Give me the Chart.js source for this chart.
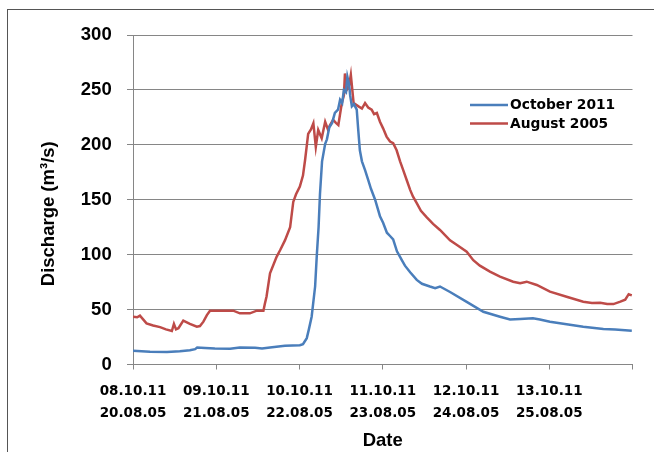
<!DOCTYPE html>
<html><head><meta charset="utf-8">
<script src="https://cdn.jsdelivr.net/npm/chart.js@4.4.1/dist/chart.umd.min.js"></script>
<style>
html,body{margin:0;padding:0;background:#fff;overflow:hidden}
#wrap{position:relative;width:654px;height:452px}
#frame{position:absolute;left:7px;top:9px;width:700px;height:500px;border-left:1px solid #555;border-top:1px solid #555}
canvas{position:absolute;left:0;top:0}
</style></head><body>
<div id="wrap"><div id="frame"></div><canvas id="c" width="654" height="452"></canvas></div>
<script>
// Tick labels (one per day, hours since start)
const dayLabels2011 = ['08.10.11','09.10.11','10.10.11','11.10.11','12.10.11','13.10.11'];
const dayLabels2005 = ['20.08.05','21.08.05','22.08.05','23.08.05','24.08.05','25.08.05'];
const yTitle = 'Discharge (m³/s)';
const xTitle = 'Date';
const seriesNames = ['October 2011','August 2005'];

// October 2011: hours since start, discharge
const octHours = [0,4.9,9.8,13.5,16.4,17.9,18.5,20.8,23.6,28.0,30.8,35.2,37.2,39.5,43.8,48.1,49.0,50.1,50.7,51.5,52.5,53.0,53.5,53.9,54.5,55.4,55.9,56.6,57.4,58.2,59.1,59.7,60.3,60.8,61.4,61.8,62.3,62.6,63.1,63.7,64.5,64.9,65.4,66.0,66.9,67.8,68.6,69.8,71.2,72.1,73.2,74.1,75.0,76.1,77.5,78.4,79.9,81.8,83.3,85.6,87.1,88.5,91.4,96.2,101.0,105.8,108.7,111.6,115.3,117.3,120.2,125.0,129.8,135.6,139.0,143.8];
const octValues = [12.5,11.5,11.3,12,13,14,15.5,15,14.5,14.3,15.5,15.2,14.5,15.5,17,17.5,18.5,24,32,43.5,71,100,125,155,185,201,205,216,220,229,232,241,238,250,248,262,255,245,235,237,232,215,195,185,177,168,160,150,135,129,120,117,114,103,95,90,84,77,73.5,71,69.5,71,66,57,48,43.5,41,41.5,42,41,39,36.6,34.4,32.3,31.8,30.8];

// August 2005: hours since start, discharge
const augHours = [0,1.2,2.0,3.9,5.8,7.8,9.5,11.2,11.8,12.4,13.1,14.5,16.4,18.4,19.3,20.3,21.3,22.2,25.1,28.9,30.8,33.7,35.7,37.6,38.0,38.5,39.5,41.4,42.4,43.8,45.3,46.2,47.0,48.1,49.0,49.6,50.5,51.3,52.0,52.7,53.4,54.4,55.4,56.2,56.8,57.7,58.5,59.2,60.2,60.8,61.1,61.6,62.3,62.8,63.6,65.0,66.0,66.9,67.8,68.8,69.5,70.3,71.2,72.1,73.1,74.1,75.0,76.0,77.0,77.9,78.9,79.9,80.7,81.8,83.0,84.7,86.5,88.5,91.4,93.3,96.2,98.1,100.0,102.9,105.8,109.6,111.6,113.5,116.4,120.2,125.0,129.8,132.3,134.7,136.7,138.5,140.5,141.9,142.9,143.8];
const augValues = [43.5,43,44.5,37.5,35.5,34,32,30.5,37,32,33,40,37,34.4,35,39,45,49,49,49,46.6,46.6,49,49,55,62,83,98,104,113,125,148,155,162,172,186,210,214,219.7,198,213.6,206,221,214,218,222.7,220,218,238,245,265,250,254,263.7,238,235,233,238,234,232,228,229,221,215,207.5,203,201.5,195,185,177,168,159,153,147,140,134,128,122.5,113,109,102.7,95,90,84.5,80,75.4,74,75.4,72.4,66.3,61.7,57.2,56,56.3,55,55,57.2,59,64,63];

const toPts = (hs, vs) => hs.map((h, i) => ({x: h, y: vs[i]}));
const gridGray = '#868686';

const legendPlugin = {
  id: 'manualLegend',
  afterDatasetsDraw(chart) {
    const ctx = chart.ctx;
    const a = chart.chartArea;
    ctx.save();
    ctx.font = 'bold 13.8px "DejaVu Sans"';
    ctx.textBaseline = 'middle';
    ctx.textAlign = 'left';
    chart.data.datasets.forEach((ds, i) => {
      const y = a.top + 70 + i * 18.5;
      const x0 = a.left + 337;
      ctx.strokeStyle = ds.borderColor;
      ctx.lineWidth = 2.5;
      ctx.beginPath(); ctx.moveTo(x0, y); ctx.lineTo(x0 + 38, y); ctx.stroke();
      ctx.fillStyle = '#000';
      ctx.fillText(ds.label, x0 + 40, y + 0.5);
    });
    ctx.restore();
  }
};

const yTitlePlugin = {
  id: 'yTitleText',
  afterDraw(chart) {
    const ctx = chart.ctx;
    const a = chart.chartArea;
    ctx.save();
    ctx.translate(a.left - 84.4, (a.top + a.bottom) / 2 + 14);
    ctx.rotate(-Math.PI / 2);
    ctx.font = 'bold 18.5px "Liberation Sans"';
    ctx.fillStyle = '#000';
    ctx.textAlign = 'center';
    ctx.textBaseline = 'middle';
    ctx.fillText(yTitle, 0, 0);
    ctx.restore();
  }
};

new Chart(document.getElementById('c'), {
  type: 'line',
  data: {
    datasets: [
      {label: seriesNames[0], data: toPts(octHours, octValues), borderColor: '#4A7EBB', borderWidth: 2.5, pointRadius: 0, tension: 0, fill: false},
      {label: seriesNames[1], data: toPts(augHours, augValues), borderColor: '#BE4B48', borderWidth: 2.5, pointRadius: 0, tension: 0, fill: false}
    ]
  },
  options: {
    responsive: false,
    animation: false,
    devicePixelRatio: 1,
    layout: {padding: {top: 35, right: 21.5, left: 0, bottom: 0}},
    plugins: {legend: {display: false}, tooltip: {enabled: false}},
    scales: {
      x: {
        type: 'linear', min: 0, max: 144,
        afterFit(s) { s.height = 87.5; },
        grid: {drawOnChartArea: false, drawTicks: true, tickLength: 5, color: gridGray},
        border: {display: true, color: gridGray},
        ticks: {
          stepSize: 24, maxRotation: 0, autoSkip: false, padding: 10.5,
          color: '#000',
          font: {family: '"DejaVu Sans"', weight: 'bold', size: 13.5, lineHeight: 1.63},
          callback: (v) => { const i = Math.round(v / 24); return i < dayLabels2011.length ? [dayLabels2011[i], dayLabels2005[i]] : ''; }
        },
        title: {display: true, text: xTitle, color: '#000', padding: {top: 0, bottom: 0},
          font: {family: '"Liberation Sans"', weight: 'bold', size: 18.5}}
      },
      y: {
        min: 0, max: 300,
        afterFit(s) { s.width = 133; },
        grid: {color: gridGray, tickLength: 6, lineWidth: 1},
        border: {display: true, color: gridGray},
        ticks: {stepSize: 50, padding: 15.3, color: '#000',
          font: {family: '"Liberation Sans"', weight: 'bold', size: 18.5}},
        title: {display: false}
      }
    }
  },
  plugins: [legendPlugin, yTitlePlugin]
});
</script>
</body></html>
